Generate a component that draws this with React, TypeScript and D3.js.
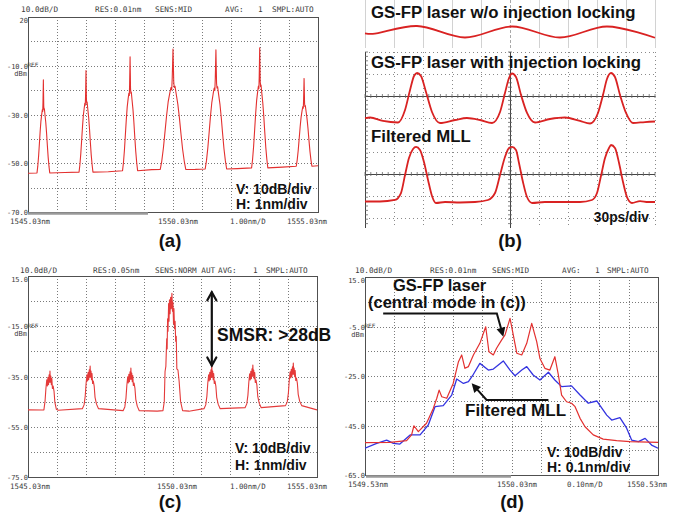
import React, { useRef, useEffect } from 'react';
import * as d3 from 'd3';

type Pt = [number, number];

const W = 679;
const H = 520;
const BOLD = "'Liberation Sans', Arial, sans-serif";
const MONO = "'DejaVu Sans Mono', monospace";
const OSA_INK = '#3c3c3c';
const RED = '#e3302f';
const BLUE = '#3434e0';

// ---------- (a) GS-FP laser spectrum ----------
const A_MODE_NM = [1545.56, 1547.03, 1548.55, 1550.03, 1551.51, 1553.02, 1554.55];
const A_MODE_DB = [-15.8, -12.0, -6.3, -3.1, -3.5, -2.6, -15.2];
const A_MODE_HALFWIDTH_NM = [0.22, 0.24, 0.26, 0.44, 0.37, 0.28, 0.27];
// one mode: offset in half-widths, fraction of height above floor
const A_MODE_SHAPE: Pt[] = [
  [-1, 0], [-0.88, 0.07], [-0.75, 0.18], [-0.62, 0.32], [-0.5, 0.45], [-0.38, 0.56],
  [-0.26, 0.63], [-0.16, 0.68], [-0.1, 0.66], [-0.06, 0.76], [-0.03, 0.88], [0, 1],
  [0.03, 0.86], [0.06, 0.72], [0.1, 0.68], [0.16, 0.69], [0.26, 0.62], [0.38, 0.54],
  [0.5, 0.43], [0.62, 0.3], [0.75, 0.17], [0.88, 0.07], [1, 0],
];
const A_FLOOR_NM = [1545.03, 1546.3, 1547.8, 1549.3, 1550.8, 1552.25, 1553.8, 1555.03];
const A_FLOOR_DB = [-54.1, -53.8, -53.5, -52.6, -52.5, -52.2, -51.6, -51.0];
const A_YTICK_DB = [10, -10, -30, -50, -70];
const A_YTICK_TEXT = ['20', '-10.0', '-30.0', '-50.0', '-70.0'];

// ---------- (b) pulse trains, 30 ps/div ----------
const B_WO_PS = [0, 8, 53.8, 103.4, 152.1, 201.7, 250.3, 300];
const B_WO_V = [0.44, 0.42, 0.75, 0.27, 0.73, 0.27, 0.73, 0.26];
const B_LOCK_PS = [0, 5.2, 18.6, 34.1, 41.4, 46.6, 50.7, 53.8, 57.9, 63.1, 69.3, 77.6, 93.1, 105.5, 119, 131.4,
  139.7, 144.8, 149, 152.1, 156.2, 161.4, 167.6, 175.9, 191.4, 206.9, 222.4, 232.8, 241, 246.2, 250.3,
  254.5, 258.6, 263.8, 270, 277.2, 289.7, 300];
const B_LOCK_V = [0.115, 0.125, 0.058, 0.029, 0.269, 0.654, 0.923, 0.981, 0.923, 0.615, 0.231, 0.019, 0.077,
  0.115, 0.077, 0.019, 0.231, 0.596, 0.885, 0.971, 0.904, 0.558, 0.212, 0.029, 0.096, 0.125, 0.058, 0.01,
  0.212, 0.558, 0.865, 0.981, 0.904, 0.558, 0.212, 0.019, 0.038, 0.048];
const B_MLL_PS = [0, 15.5, 31, 37.2, 41.4, 45.5, 49.7, 52.8, 56.9, 61, 65.2, 69.3, 73.4, 82.8, 98.3, 113.8,
  127.2, 134.5, 139.7, 144.8, 149, 152.1, 156.2, 159.3, 163.4, 167.6, 172.8, 186.2, 201.7, 222.4, 234.8,
  240, 244.1, 248.3, 252.4, 254.5, 258.6, 262.8, 266.9, 271, 276.2, 284.5, 292.8, 300];
const B_MLL_V = [0.026, 0.026, 0.052, 0.172, 0.483, 0.776, 0.931, 0.966, 0.914, 0.707, 0.397, 0.121, 0, 0.017,
  0.009, 0.017, 0.052, 0.172, 0.483, 0.793, 0.948, 0.966, 0.914, 0.69, 0.362, 0.103, 0, 0.017, 0.017, 0.017,
  0.052, 0.172, 0.466, 0.776, 0.948, 1.0, 0.948, 0.69, 0.362, 0.103, 0, 0.034, 0.017, 0.017];

// ---------- (c) injection-locked GS-FP spectrum ----------
const C_SIDE_NM = [1545.79, 1547.18, 1548.59, 1551.39, 1552.81, 1554.21];
const C_SIDE_DB = [-32.8, -30.8, -31.6, -30.8, -30.4, -29.6];
// side mode: offset (nm), level below its top (dB)
const C_SIDE_SHAPE: Pt[] = [
  [-0.27, -17], [-0.21, -15.5], [-0.17, -12], [-0.14, -7], [-0.11, -3.5], [-0.09, -6], [-0.07, -2.5],
  [-0.05, -5.5], [-0.03, -1.5], [-0.015, -4.5], [0, 0], [0.015, -4.5], [0.03, -2], [0.048, -5.5],
  [0.065, -3], [0.085, -7], [0.11, -6], [0.14, -8], [0.17, -12.5], [0.22, -15.2], [0.29, -17],
];
const C_CENTER: Pt[] = [
  [1549.70, -48.6], [1549.745, -45], [1549.772, -33], [1549.80, -31], [1549.83, -20], [1549.845, -24],
  [1549.86, -12], [1549.875, -17], [1549.895, -6], [1549.91, -13], [1549.925, -4.5], [1549.945, -10],
  [1549.965, -3.5], [1549.985, -8], [1550.01, -1.9], [1550.03, -9], [1550.045, -5.5], [1550.065, -14],
  [1550.08, -8], [1550.10, -16], [1550.12, -13], [1550.14, -21], [1550.16, -19], [1550.18, -32],
  [1550.22, -32.5], [1550.26, -37], [1550.31, -45], [1550.38, -48.6],
];
const C_FLOOR_NM = [1545.03, 1549.5, 1550.6, 1555.03];
const C_FLOOR_DB = [-48.3, -48.8, -48.8, -48.3];
const C_YTICK_DB = [5, -15, -35, -55, -75];
const C_YTICK_TEXT = ['15.0', '-15.0', '-35.0', '-55.0', '-75.0'];
const C_SMSR: Pt[] = [[1551.39, -1.5], [1551.39, -30.6]];

// ---------- (d) central mode, 0.1 nm/div ----------
const D_LASER: Pt[] = [
  [1549.530, -51.9], [1549.615, -51.8], [1549.672, -51.1], [1549.689, -48.8], [1549.697, -45.1],
  [1549.712, -47.5], [1549.740, -44.1], [1549.763, -38.1], [1549.775, -34.0], [1549.783, -30.7],
  [1549.792, -33.4], [1549.809, -34.0], [1549.831, -28.0], [1549.849, -19.2], [1549.860, -16.5],
  [1549.871, -21.9], [1549.883, -21.2], [1549.900, -16.5], [1549.922, -11.8], [1549.942, -5.1],
  [1549.953, -15.2], [1549.968, -16.5], [1549.979, -13.8], [1549.996, -10.5], [1550.008, -8.4],
  [1550.025, -1.7], [1550.036, -8.4], [1550.048, -15.8], [1550.065, -16.5], [1550.082, -11.8],
  [1550.099, -3.7], [1550.116, -11.1], [1550.127, -17.9], [1550.144, -21.9], [1550.161, -22.6],
  [1550.178, -17.2], [1550.190, -24.6], [1550.201, -32.7], [1550.218, -35.4], [1550.235, -36.0],
  [1550.247, -37.4], [1550.264, -42.1], [1550.281, -45.5], [1550.309, -48.8], [1550.343, -50.5],
  [1550.389, -51.1], [1550.434, -51.5], [1550.530, -51.8],
];
const D_MLL: Pt[] = [
  [1549.530, -54.2], [1549.570, -52.2], [1549.604, -50.9], [1549.627, -52.2], [1549.649, -52.5],
  [1549.684, -48.8], [1549.718, -48.8], [1549.746, -44.8], [1549.769, -37.4], [1549.797, -37.0],
  [1549.826, -32.7], [1549.843, -26.2], [1549.866, -28.0], [1549.883, -27.3], [1549.900, -24.3],
  [1549.922, -19.9], [1549.951, -22.6], [1549.968, -22.2], [1550.002, -18.9], [1550.025, -22.6],
  [1550.042, -24.9], [1550.065, -22.6], [1550.082, -21.2], [1550.104, -24.6], [1550.127, -26.6],
  [1550.156, -23.5], [1550.178, -26.6], [1550.201, -29.3], [1550.235, -29.0], [1550.264, -32.7],
  [1550.292, -36.0], [1550.321, -35.1], [1550.355, -40.8], [1550.372, -42.8], [1550.400, -41.8],
  [1550.423, -46.1], [1550.440, -50.9], [1550.463, -51.5], [1550.486, -50.2], [1550.508, -52.9],
  [1550.530, -54.2],
];
const D_YTICK_DB = [15, -5, -25, -45, -65];
const D_YTICK_TEXT = ['15.0', '-5.0', '-25.0', '-45.0', '-65.0'];
const D_LASER_ARROW: Pt[] = [[1549.592, 0.3], [1549.98, 0.3], [1550.002, -9.1]];
const D_MLL_ARROW: Pt[] = [[1550.156, -34.7], [1549.945, -34.7], [1549.894, -27.9]];

const PANEL_CAPTIONS = ['(a)', '(b)', '(c)', '(d)'];

function bold(g: any, str: string, x: number, y: number, size: number, anchor = 'start') {
  return g.append('text').attr('x', x).attr('y', y).attr('font-family', BOLD)
    .attr('font-weight', 'bold').attr('font-size', size).attr('fill', '#111')
    .attr('text-anchor', anchor).text(str);
}

function osaFrame(svg: any, o: any) {
  const x = d3.scaleLinear().domain(o.xDomain).range([o.left, o.right]);
  const y = d3.scaleLinear().domain(o.yDomain).range([o.bottom, o.top]);
  const g = svg.append('g');
  const xDiv = d3.range(1, 10).map(i => o.xDomain[0] + i * (o.xDomain[1] - o.xDomain[0]) / 10);
  const yDiv = d3.range(1, 8).map(i => o.yDomain[0] + i * (o.yDomain[1] - o.yDomain[0]) / 8);

  g.selectAll('.vgrid').data(xDiv).enter().append('line')
    .attr('x1', d => Math.round(x(d)) + 0.5).attr('x2', d => Math.round(x(d)) + 0.5)
    .attr('y1', o.top).attr('y2', o.bottom)
    .attr('stroke', '#7a7a7a').attr('stroke-dasharray', '1,2');
  g.selectAll('.hgrid').data(yDiv).enter().append('line')
    .attr('x1', o.left).attr('x2', o.right)
    .attr('y1', d => Math.round(y(d)) + 0.5).attr('y2', d => Math.round(y(d)) + 0.5)
    .attr('stroke', '#7a7a7a').attr('stroke-dasharray', '1,2');
  g.append('rect').attr('x', o.left + 0.5).attr('y', o.top + 0.5)
    .attr('width', o.right - o.left).attr('height', o.bottom - o.top)
    .attr('fill', 'none').attr('stroke', '#505050');
  if (o.bar) {
    g.append('line').attr('x1', o.bar[0]).attr('x2', o.bar[1])
      .attr('y1', o.bottom + 1.5).attr('y2', o.bottom + 1.5)
      .attr('stroke', '#9a9a9a').attr('stroke-width', 2.5);
  }

  const small = (str: string, px: number, py: number, size: number, anchor = 'start') =>
    g.append('text').attr('x', px).attr('y', py).attr('font-family', MONO).attr('font-size', size)
      .attr('fill', OSA_INK).attr('text-anchor', anchor).text(str);

  o.header.forEach(([t, px]: [string, number]) => small(t, px, o.headerY, 7.7));
  o.yTicks.forEach((v: number, i: number) => {
    const py = i === 0 ? y(v) + 6 : y(v) + 3;
    small(o.yText[i], o.left, py, 7, 'end');
  });
  const refY = y(o.yTicks[1]);
  small('REF', o.left - 0.5, refY + 1.5, 6);
  small('dBm', o.left - 1, refY + 10, 7, 'end');
  o.xLabels.forEach(([t, px]: [string, number]) => small(t, px, o.bottom + 12, 7.4));

  const clipId = `clip-${o.id}`;
  svg.append('defs').append('clipPath').attr('id', clipId).append('rect')
    .attr('x', o.left).attr('y', o.top).attr('width', o.right - o.left).attr('height', o.bottom - o.top);
  const plot = g.append('g').attr('clip-path', `url(#${clipId})`);
  return { x, y, g, plot };
}

function trace(plot: any, x: any, y: any, pts: Pt[], color: string, width: number) {
  const line = d3.line<Pt>().x(d => x(d[0])).y(d => y(d[1]));
  plot.append('path').datum(pts).attr('d', line).attr('fill', 'none')
    .attr('stroke', color).attr('stroke-width', width).attr('stroke-linejoin', 'round');
}

function arrowHead(g: any, from: [number, number], tip: [number, number], len: number, half: number) {
  const dx = tip[0] - from[0], dy = tip[1] - from[1];
  const l = Math.hypot(dx, dy);
  const ux = dx / l, uy = dy / l;
  const bx = tip[0] - ux * len, by = tip[1] - uy * len;
  g.append('path')
    .attr('d', `M${tip[0]},${tip[1]}L${bx - uy * half},${by + ux * half}L${bx + uy * half},${by - ux * half}Z`)
    .attr('fill', '#111');
}

function drawA(svg: any) {
  const { x, y, g, plot } = osaFrame(svg, {
    id: 'a', left: 28, top: 17, right: 318, bottom: 212,
    xDomain: [1545.03, 1555.03], yDomain: [-70, 10], headerY: 12,
    header: [['10.0dB/D', 21], ['RES:0.01nm', 95], ['SENS:MID', 155], ['AVG:', 225], ['1', 258], ['SMPL:AUTO', 272]],
    yTicks: A_YTICK_DB, yText: A_YTICK_TEXT,
    xLabels: [['1545.03nm', 10], ['1550.03nm', 158], ['1.00nm/D', 230], ['1555.03nm', 287]],
    bar: [28, 148],
  });
  const floor = d3.scaleLinear().domain(A_FLOOR_NM).range(A_FLOOR_DB);
  const pts: Pt[] = A_FLOOR_NM.map((n, i) => [n, A_FLOOR_DB[i]] as Pt);
  A_MODE_NM.forEach((c, i) => {
    const fl = floor(c);
    A_MODE_SHAPE.forEach(([u, f]) => {
      pts.push([c + u * A_MODE_HALFWIDTH_NM[i], fl + f * (A_MODE_DB[i] - fl)]);
    });
  });
  pts.sort((p, q) => p[0] - q[0]);
  trace(plot, x, y, pts, RED, 1.1);
  bold(g, 'V: 10dB/div', 236, 194, 14);
  bold(g, 'H: 1nm/div', 236, 209, 14);
}

function drawB(svg: any) {
  const g = svg.append('g');
  const bx = d3.scaleLinear().domain([0, 300]).range([365, 655]);
  const divs = d3.range(0, 301, 30);

  // upper capture: light grid
  g.selectAll('.topgrid').data(divs).enter().append('line')
    .attr('x1', d => Math.round(bx(d)) + 0.5).attr('x2', d => Math.round(bx(d)) + 0.5)
    .attr('y1', 0).attr('y2', 48)
    .attr('stroke', d => (d === 150 ? '#a8a8a8' : '#d2d2d2'))
    .attr('stroke-dasharray', d => (d === 150 ? '3,2' : null));

  // lower capture: scope screen
  const top = 52, bottom = 228;
  const dotted = [52, 74, 118, 152, 196, 218];
  const axes = [96, 174];
  g.selectAll('.hdot').data(dotted).enter().append('line')
    .attr('x1', 365).attr('x2', 655).attr('y1', d => d + 0.5).attr('y2', d => d + 0.5)
    .attr('stroke', '#8a8a8a').attr('stroke-dasharray', '1,3');
  g.selectAll('.vdot').data(divs.filter(d => d !== 0 && d !== 150)).enter().append('line')
    .attr('x1', d => Math.round(bx(d)) + 0.5).attr('x2', d => Math.round(bx(d)) + 0.5)
    .attr('y1', top).attr('y2', bottom)
    .attr('stroke', '#8a8a8a').attr('stroke-dasharray', '1,3');
  g.selectAll('.hax').data(axes).enter().append('line')
    .attr('x1', 365).attr('x2', 655).attr('y1', d => d + 0.5).attr('y2', d => d + 0.5)
    .attr('stroke', '#444').attr('stroke-width', 1);
  [0, 150].forEach(t => {
    g.append('line').attr('x1', Math.round(bx(t)) + 0.5).attr('x2', Math.round(bx(t)) + 0.5)
      .attr('y1', top).attr('y2', bottom).attr('stroke', '#444');
  });
  // minor ticks on the axes
  const minorT = d3.range(0, 301, 6);
  axes.forEach(ay => {
    g.selectAll(null).data(minorT).enter().append('line')
      .attr('x1', d => bx(d)).attr('x2', d => bx(d)).attr('y1', ay - 2).attr('y2', ay + 2)
      .attr('stroke', '#666').attr('stroke-width', 0.8);
  });
  const minorY = d3.range(top, bottom, 4.4);
  [[bx(150) - 2, bx(150) + 2], [bx(0), bx(0) + 3]].forEach(([x1, x2]) => {
    g.selectAll(null).data(minorY).enter().append('line')
      .attr('x1', x1).attr('x2', x2).attr('y1', d => d).attr('y2', d => d)
      .attr('stroke', '#666').attr('stroke-width', 0.8);
  });

  const woY = d3.scaleLinear().domain([0, 1]).range([44, 20]);
  const lockY = d3.scaleLinear().domain([0, 1]).range([124, 72]);
  const mllY = d3.scaleLinear().domain([0, 1]).range([203, 145]);
  const draw = (ts: number[], vs: number[], ys: any, curve: any) => {
    const line = d3.line<number>().x((_, i) => bx(ts[i])).y(v => ys(v)).curve(curve);
    g.append('path').datum(vs).attr('d', line).attr('fill', 'none')
      .attr('stroke', '#d92222').attr('stroke-width', 1.8).attr('stroke-linejoin', 'round');
  };
  draw(B_WO_PS, B_WO_V, woY, d3.curveCatmullRom.alpha(0.5));
  draw(B_LOCK_PS, B_LOCK_V, lockY, d3.curveMonotoneX);
  draw(B_MLL_PS, B_MLL_V, mllY, d3.curveMonotoneX);

  bold(g, 'GS-FP laser w/o injection locking', 371, 18, 16.8);
  bold(g, 'GS-FP laser with injection locking', 371, 67.5, 16.8);
  bold(g, 'Filtered MLL', 371, 142, 16.8);
  bold(g, '30ps/div', 649, 222, 13.8, 'end');
}

function drawC(svg: any) {
  const { x, y, g, plot } = osaFrame(svg, {
    id: 'c', left: 28, top: 276, right: 317, bottom: 477,
    xDomain: [1545.03, 1555.03], yDomain: [-75, 5], headerY: 273,
    header: [['10.0dB/D', 20], ['RES:0.05nm', 93], ['SENS:NORM AUT', 155], ['AVG:', 218], ['1', 253], ['SMPL:AUTO', 266]],
    yTicks: C_YTICK_DB, yText: C_YTICK_TEXT,
    xLabels: [['1545.03nm', 10], ['1550.03nm', 157], ['1.00nm/D', 230], ['1555.03nm', 287]],
  });
  const floor = d3.scaleLinear().domain(C_FLOOR_NM).range(C_FLOOR_DB);
  const pts: Pt[] = C_FLOOR_NM.map((n, i) => [n, C_FLOOR_DB[i]] as Pt).filter(p => p[0] < 1549.6 || p[0] > 1550.5);
  C_SIDE_NM.forEach((c, i) => {
    C_SIDE_SHAPE.forEach(([dx, rel]) => {
      const n = c + dx;
      pts.push([n, Math.max(floor(n), C_SIDE_DB[i] + rel)]);
    });
  });
  C_CENTER.forEach(p => pts.push(p));
  pts.sort((p, q) => p[0] - q[0]);
  trace(plot, x, y, pts, '#e43a3a', 1.1);

  const ax = x(C_SMSR[0][0]);
  const y1 = y(C_SMSR[0][1]);
  const y2 = y(C_SMSR[1][1]);
  const arr = g.append('g').attr('stroke', '#111').attr('stroke-width', 2.2)
    .attr('stroke-linecap', 'round').attr('fill', 'none');
  arr.append('line').attr('x1', ax).attr('x2', ax).attr('y1', y1).attr('y2', y2);
  arr.append('path').attr('d', `M${ax - 4.5},${y1 + 8}L${ax},${y1}L${ax + 4.5},${y1 + 8}`);
  arr.append('path').attr('d', `M${ax - 4.5},${y2 - 8}L${ax},${y2}L${ax + 4.5},${y2 - 8}`);
  bold(g, 'SMSR: >28dB', 217, 341, 17.5);
  bold(g, 'V: 10dB/div', 235, 453, 14);
  bold(g, 'H: 1nm/div', 235, 470, 14);
}

function drawD(svg: any) {
  const { x, y, g, plot } = osaFrame(svg, {
    id: 'd', left: 365, top: 277, right: 658, bottom: 475,
    xDomain: [1549.53, 1550.53], yDomain: [-65, 15], headerY: 273,
    header: [['10.0dB/D', 355], ['RES:0.01nm', 430], ['SENS:MID', 492], ['AVG:', 562], ['1', 595], ['SMPL:AUTO', 607]],
    yTicks: D_YTICK_DB, yText: D_YTICK_TEXT,
    xLabels: [['1549.53nm', 348], ['1550.03nm', 497], ['0.10nm/D', 567], ['1550.53nm', 627]],
    bar: [366, 511],
  });
  trace(plot, x, y, D_MLL, BLUE, 1.3);
  trace(plot, x, y, D_LASER, RED, 1.2);

  const arrows = [D_LASER_ARROW, D_MLL_ARROW];
  arrows.forEach(a => {
    const px = a.map(p => [x(p[0]), y(p[1])] as [number, number]);
    g.append('path').attr('d', d3.line()(px.slice(0, 2).concat([[
      px[2][0] - (px[2][0] - px[1][0]) * 0.35, px[2][1] - (px[2][1] - px[1][1]) * 0.35]])))
      .attr('fill', 'none').attr('stroke', '#111').attr('stroke-width', 2);
    arrowHead(g, px[1], px[2], 9, 4.5);
  });

  bold(g, 'GS-FP laser', 393, 291, 16.5);
  bold(g, '(central mode in (c))', 368, 308, 16.5);
  bold(g, 'Filtered MLL', 465, 416, 17);
  bold(g, 'V: 10dB/div', 547, 457, 14);
  bold(g, 'H: 0.1nm/div', 547, 472, 14);
}

export default function App() {
  const ref = useRef<SVGSVGElement>(null);
  useEffect(() => {
    if (!ref.current) return;
    const svg = d3.select(ref.current);
    svg.selectAll('*').remove();
    svg.append('rect').attr('width', W).attr('height', H).attr('fill', '#fff');
    drawA(svg);
    drawB(svg);
    drawC(svg);
    drawD(svg);
    const cap = svg.append('g');
    const capPos: Pt[] = [[170, 247], [510, 247], [170, 508], [512, 508]];
    PANEL_CAPTIONS.forEach((c, i) => bold(cap, c, capPos[i][0], capPos[i][1], 18.5, 'middle'));
  }, []);
  return (
    <svg ref={ref} width={W} height={H}
      style={{ position: 'absolute', left: 0, top: 0, display: 'block' }} />
  );
}
